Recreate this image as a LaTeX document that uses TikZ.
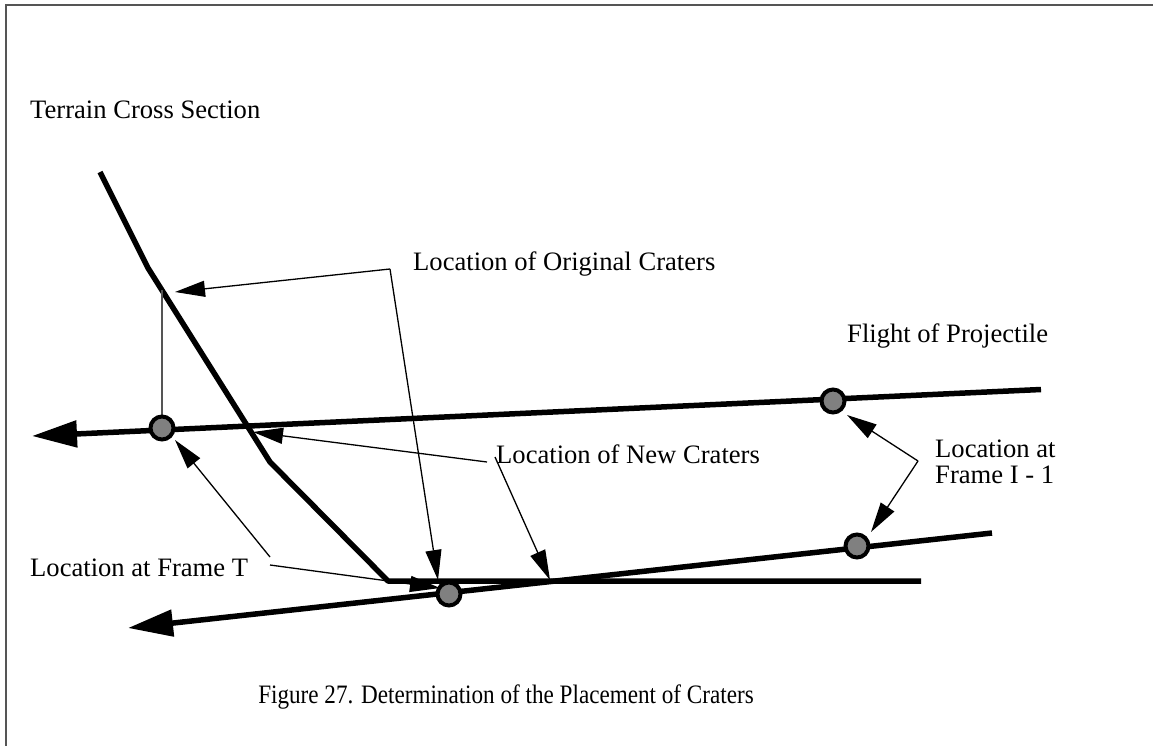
\documentclass[tikz,border=0pt]{standalone}
\usepackage{fontspec}
\usepackage{graphicx}
\setmainfont{Liberation Serif}
\usetikzlibrary{arrows.meta}
\definecolor{framegray}{HTML}{555555}
\definecolor{dotgray}{HTML}{808080}
\begin{document}
\begin{tikzpicture}[x=1pt,y=-1pt,
  lbl/.style={font=\fontsize{26.6}{26}\selectfont, inner sep=0pt, anchor=base west},
  terrainline/.style={line width=5.5pt, line join=round},
  flightline/.style={line width=5.5pt, -{Triangle[length=45pt,width=26pt]}},
  pointer/.style={line width=1.3pt, -{Triangle[length=30pt,width=16pt]}},
  crater/.style={circle, draw, line width=4pt, fill=dotgray, minimum size=23pt, inner sep=0pt},
]
\useasboundingbox (0,0) rectangle (1153,746);

% page frame (top and left edges)
\draw[framegray, line width=2pt] (1153,5.5) -- (5.5,5.5) -- (5.5,746);

% terrain cross section
\coordinate (t0) at (100,172);
\coordinate (t1) at (148,268);
\coordinate (t2) at (270,462);
\coordinate (t3) at (388,581);
\coordinate (t4) at (921,581);
\draw[terrainline] (t0) -- (t1) -- (t2) -- (t3) -- (t4);

% projectile flights
\coordinate (uR) at (1041,389.5);
\coordinate (uL) at (32,436);
\coordinate (lR) at (992,533);
\coordinate (lL) at (128,628);
\draw[flightline] (uR) -- (uL);
\draw[flightline] (lR) -- (lL);

% crater positions
\coordinate (cA) at (162,428);
\coordinate (cB) at (833,401);
\coordinate (cC) at (857,546);
\coordinate (cD) at (449,594);
\coordinate (tA) at (162,290);
\draw[framegray, line width=1.3pt] (tA) -- (cA);

% labels
\node[lbl] (terrain) at (30,119) {Terrain Cross Section};
\node[lbl] (orig) at (413,270) {Location of Original Craters};
\node[lbl] (flight) at (847,342) {Flight of Projectile};
\node[lbl] (new) at (496,463) {Location of New Craters};
\node[lbl, align=left] (frameI) at (935,483) {Location at\\Frame I - 1};
\node[lbl] (frameT) at (30,576) {Location at Frame T};
\node[lbl, anchor=base] (caption) at (506,703)
  {\scalebox{0.87}[1]{Figure 27. Determination of the Placement of Craters}};

% pointer corners
\coordinate (oK) at (390,269);
\coordinate (oA) at (175,292);
\coordinate (oB) at (438,580);
\coordinate (nK1) at (487,462);
\coordinate (nK2) at (495,457);
\coordinate (nA) at (253,432);
\coordinate (nB) at (550,580);
\coordinate (iK) at (918,461);
\coordinate (iA) at (847,415);
\coordinate (iB) at (871,532);
\coordinate (fK1) at (270,557);
\coordinate (fK2) at (270,565);
\coordinate (fA) at (175,440);
\coordinate (fB) at (440,588);

\draw[pointer] (oK) -- (oA);
\draw[pointer] (oK) -- (oB);
\draw[pointer] (nK1) -- (nA);
\draw[pointer] (nK2) -- (nB);
\draw[pointer] (iK) -- (iA);
\draw[pointer] (iK) -- (iB);
\draw[pointer] (fK1) -- (fA);
\draw[pointer] (fK2) -- (fB);

% crater markers on the flight paths
\node[crater] (mA) at (cA) {};
\node[crater] (mB) at (cB) {};
\node[crater] (mC) at (cC) {};
\node[crater] (mD) at (cD) {};
\end{tikzpicture}
\end{document}
